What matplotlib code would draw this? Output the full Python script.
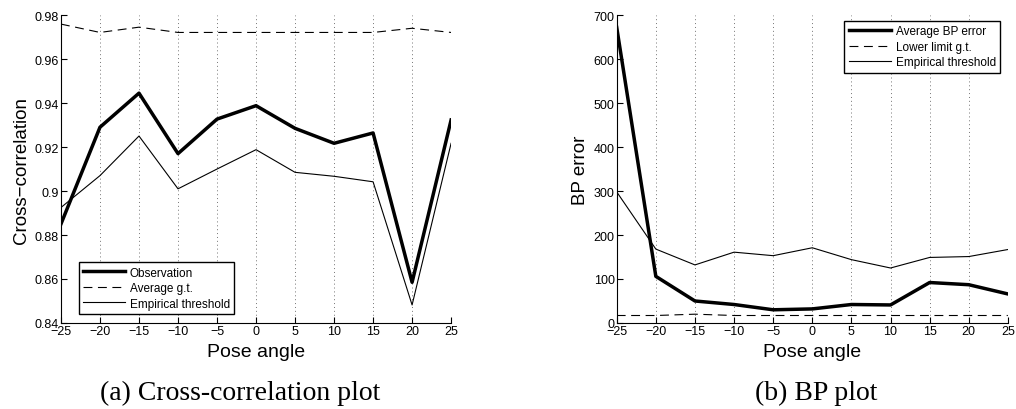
import matplotlib
matplotlib.use("Agg")
import matplotlib.pyplot as plt

plt.rcParams["font.family"] = ["Liberation Sans", "DejaVu Sans"]

# pose angles (x axis for both panels)
pose = [-25, -20, -15, -10, -5, 0, 5, 10, 15, 20, 25]

# (a) cross-correlation
observation = [0.885, 0.929, 0.9445, 0.917, 0.9327, 0.9388, 0.9285, 0.9217, 0.9264, 0.8585, 0.9323]
average_gt = [0.9759, 0.9721, 0.9745, 0.9721, 0.9721, 0.9721, 0.9721, 0.9721, 0.9721, 0.974, 0.9721]
emp_thr_cc = [0.8925, 0.907, 0.925, 0.901, 0.910, 0.9188, 0.9085, 0.9067, 0.9042, 0.8482, 0.9217]

# (b) BP error
avg_bp = [672, 106, 50, 42, 30, 32, 42, 41, 92, 87, 66]
lower_gt = [17, 17, 20, 17, 17, 17, 17, 17, 17, 17, 17]
emp_thr_bp = [298, 168, 132, 161, 153, 171, 144, 125, 149, 151, 167]

cc_yticks = [0.84, 0.86, 0.88, 0.9, 0.92, 0.94, 0.96, 0.98]
cc_yticklabels = ["0.84", "0.86", "0.88", "0.9", "0.92", "0.94", "0.96", "0.98"]
bp_yticks = [0, 100, 200, 300, 400, 500, 600, 700]

fig = plt.figure(figsize=(10.16, 4.10), dpi=100)
ax1 = fig.add_axes([0.060, 0.2098, 0.384, 0.751])
ax2 = fig.add_axes([0.607, 0.2098, 0.385, 0.751])

DASH = (0, (8, 5))


def style(ax):
    ax.set_xlim(-25, 25)
    ax.set_xticks(pose)
    ax.set_xticklabels([str(p).replace("-", "\u2212") for p in pose])
    ax.grid(axis="x", linestyle=(0, (1, 3)), color="0.45", linewidth=0.7)
    ax.spines["top"].set_visible(False)
    ax.spines["right"].set_visible(False)
    ax.tick_params(direction="in", length=4, width=0.8, labelsize=9, pad=1.5)
    ax.set_xlabel("Pose angle", fontsize=14, labelpad=4)


def legend(ax, **kw):
    leg = ax.legend(fontsize=8.5, fancybox=False, edgecolor="black", framealpha=1,
                    handlelength=3.6, borderpad=0.35, labelspacing=0.3,
                    handletextpad=0.4, borderaxespad=0, **kw)
    leg.get_frame().set_linewidth(1.0)
    return leg


ax1.plot(pose, observation, color="black", lw=2.5, label="Observation")
ax1.plot(pose, average_gt, color="black", lw=0.8, ls=DASH, label="Average g.t.")
ax1.plot(pose, emp_thr_cc, color="black", lw=0.8, label="Empirical threshold")
ax1.set_ylim(0.84, 0.98)
ax1.set_yticks(cc_yticks)
ax1.set_yticklabels(cc_yticklabels)
style(ax1)
ax1.set_ylabel("Cross\u2212correlation", fontsize=13.5, labelpad=3)
legend(ax1, loc="lower left", bbox_to_anchor=(0.045, 0.03))

ax2.plot(pose, avg_bp, color="black", lw=2.5, label="Average BP error")
ax2.plot(pose, lower_gt, color="black", lw=0.8, ls=DASH, label="Lower limit g.t.")
ax2.plot(pose, emp_thr_bp, color="black", lw=0.8, label="Empirical threshold")
ax2.set_ylim(0, 700)
ax2.set_yticks(bp_yticks)
style(ax2)
ax2.set_ylabel("BP error", fontsize=13.5, labelpad=3)
legend(ax2, loc="upper right", bbox_to_anchor=(0.98, 0.98))

fig.text(0.236, 0.04, "(a) Cross-correlation plot", ha="center", va="center",
         fontsize=20, family="Liberation Serif")
fig.text(0.803, 0.04, "(b) BP plot", ha="center", va="center",
         fontsize=20, family="Liberation Serif")

fig.savefig("out.png", dpi=100)
